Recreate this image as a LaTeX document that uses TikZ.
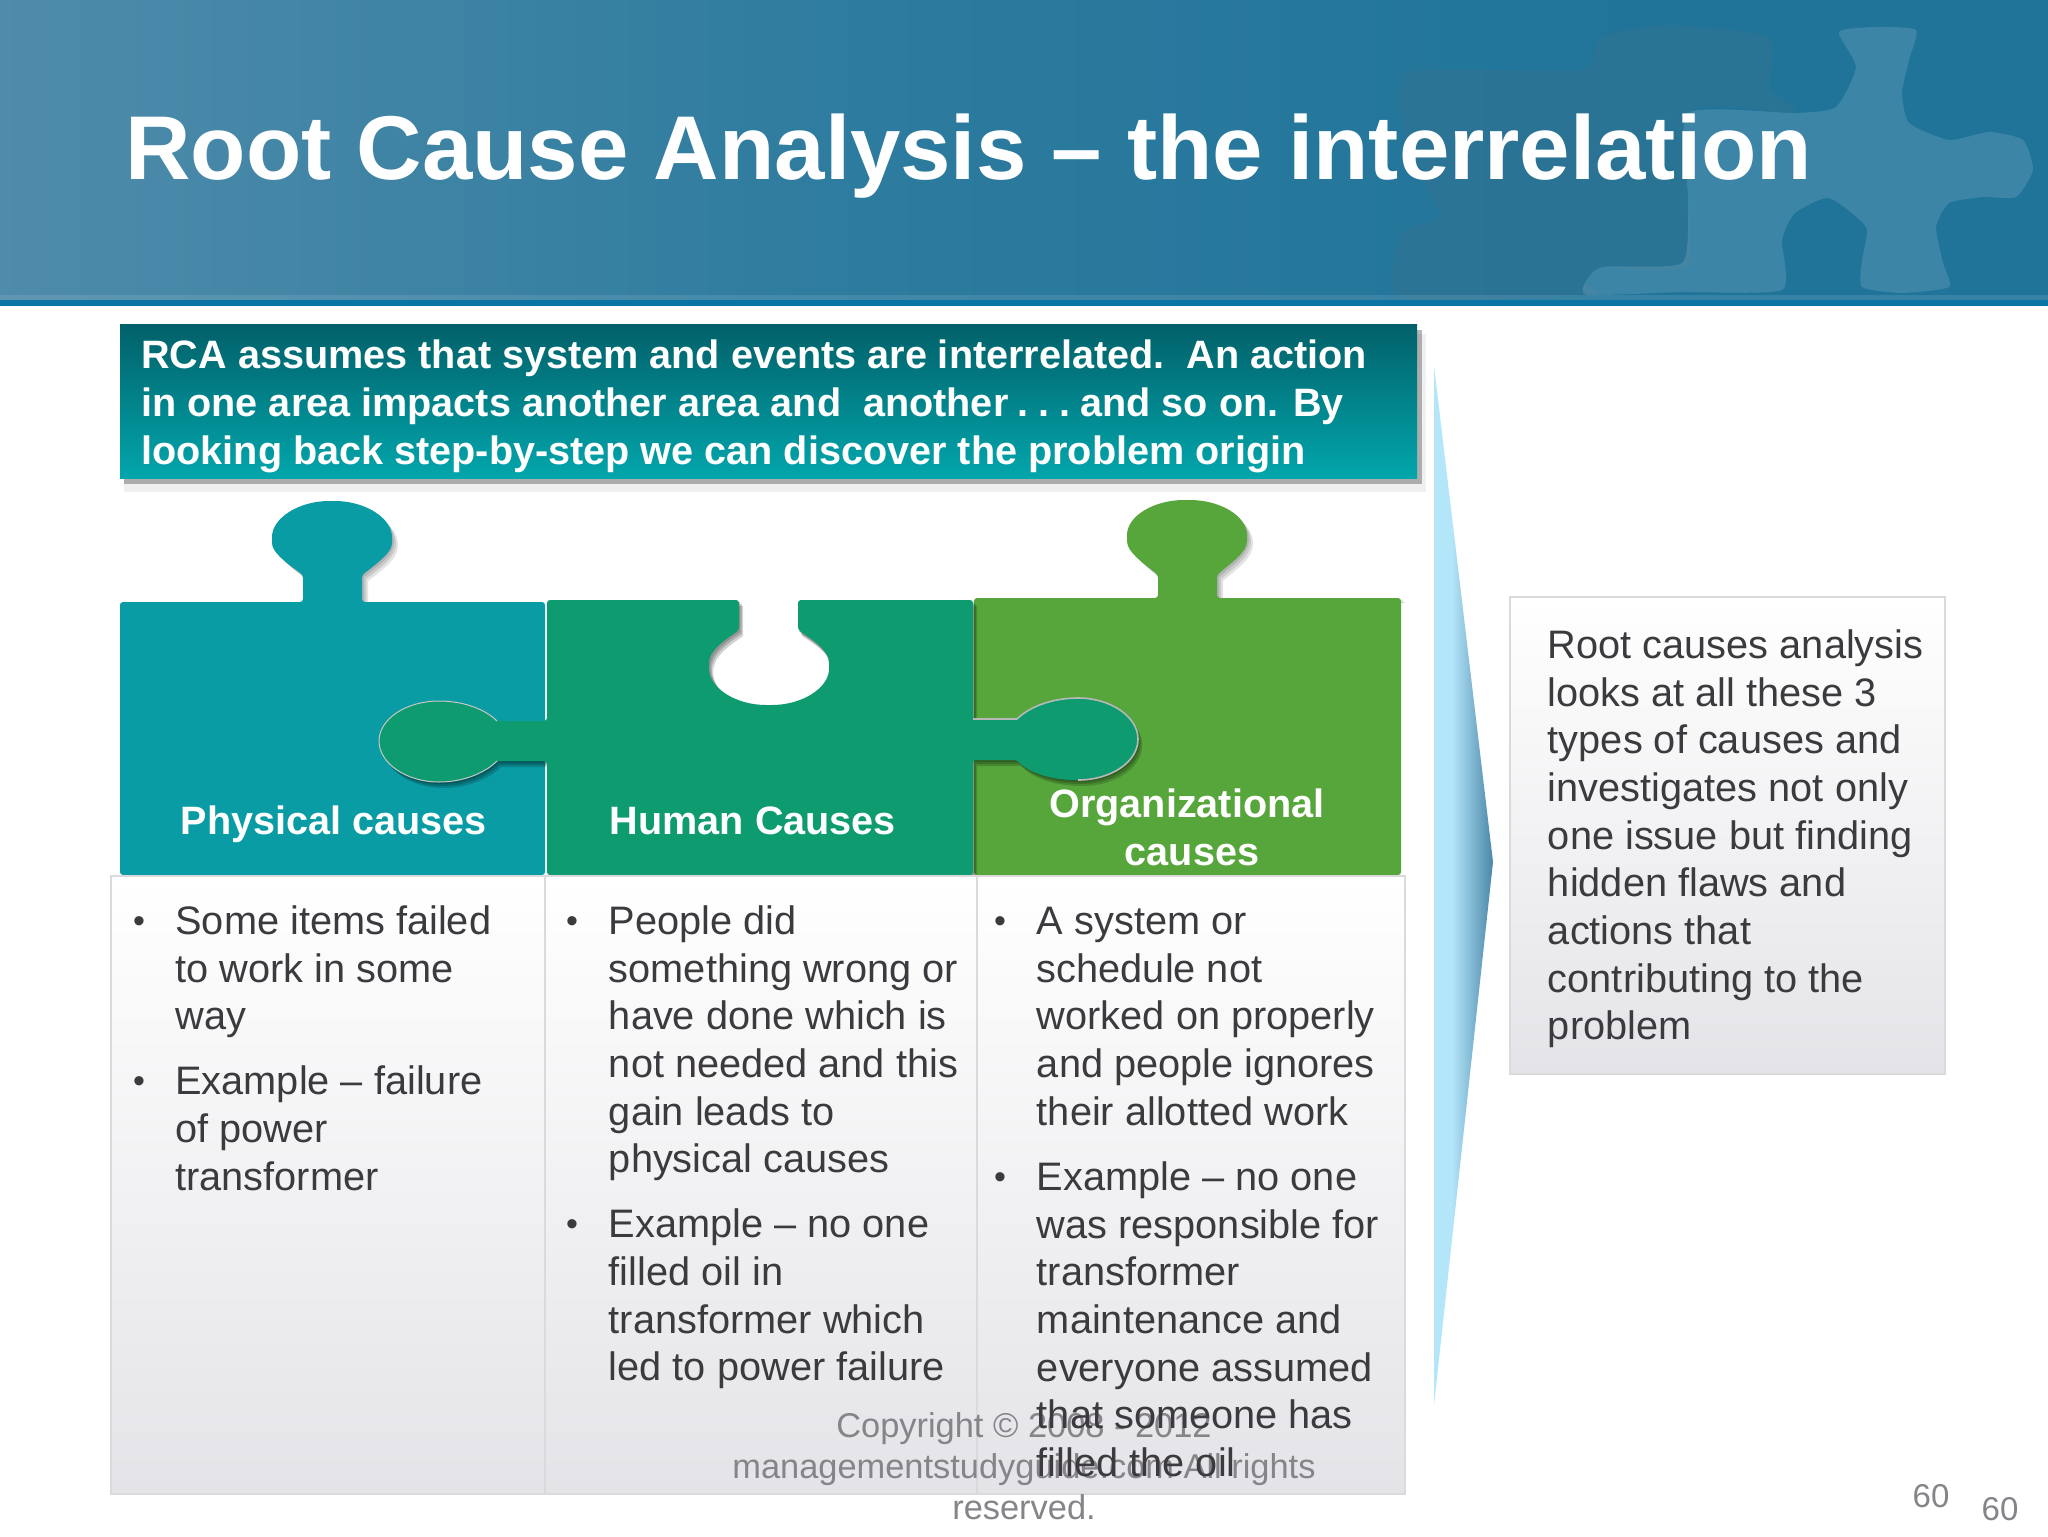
\documentclass[tikz,border=0pt]{standalone}
\usepackage{fontspec}
\setmainfont{Liberation Sans}
\definecolor{hdA}{HTML}{4F8BAA}
\definecolor{hdB}{HTML}{2E7C9F}
\definecolor{hdC}{HTML}{20749A}
\definecolor{hdband}{HTML}{0A74A5}
\definecolor{ghostc}{HTML}{4A7080}
\definecolor{bnA}{HTML}{026069}
\definecolor{bnB}{HTML}{02A6AC}
\definecolor{arA}{HTML}{B4E6FA}
\definecolor{arB}{HTML}{4B87A9}
\definecolor{bodyc}{HTML}{3C3A3E}
\definecolor{footc}{HTML}{868489}
\definecolor{boxedge}{HTML}{DADADC}
\definecolor{boxlow}{HTML}{E4E3E7}
\definecolor{tileA}{HTML}{0A9CA5}
\definecolor{tileB}{HTML}{0E9B70}
\definecolor{tileC}{HTML}{57A63B}
\pgfdeclarehorizontalshading{hdshade}{100bp}{color(0bp)=(hdA);color(25bp)=(hdA);color(45bp)=(hdB);color(65bp)=(hdC);color(100bp)=(hdC)}
\pgfdeclarehorizontalshading{arshade}{100bp}{color(0bp)=(arA);color(25bp)=(arA);color(40bp)=(arA);color(75bp)=(arB);color(100bp)=(arB)}
\tikzset{
  slidebody/.style={anchor=north west,inner sep=0pt,align=left,text=bodyc,font=\fontsize{19.87}{23.85}\selectfont},
  bulletdot/.style={anchor=north,inner sep=0pt,text=bodyc,font=\fontsize{19.87}{23.85}\selectfont},
  tilelabel/.style={anchor=base,inner sep=0pt,text=white,font=\fontsize{19.8}{24}\selectfont\bfseries},
  listbox/.style={draw=boxedge,line width=0.6pt,top color=white,bottom color=boxlow},
  softshadow/.style={fill=black,opacity=0.11},
  tabshadow/.style={fill=black,opacity=0.17},
  pagenum/.style={inner sep=0pt,text=footc,font=\fontsize{16.5}{20}\selectfont},
}
\newcommand{\smalldot}{\strut\raisebox{1pt}{\fontsize{17}{20}\selectfont •}}
% tile outlines (coordinates in reference pixels)
\def\tileone{(120,602) -- (303,602) -- (303,575) .. controls (285,562) and (272,552) .. (272,540) .. controls (272,518) and (299,501) .. (332,501) .. controls (365,501) and (392,518) .. (392,540) .. controls (392,552) and (379,562) .. (362,575) -- (362,602) -- (545,602) -- (545,875) -- (120,875) -- cycle}
\def\tiletwo{(547,600) -- (739,600) -- (739,630) .. controls (725,640) and (709,650) .. (709,666) .. controls (709,688) and (736,705) .. (769,705) .. controls (802,705) and (829,688) .. (829,666) .. controls (829,650) and (813,640) .. (798,630) -- (798,600) -- (973,600) -- (973,719) -- (1017,719) .. controls (1028,708) and (1050,698) .. (1078,698) .. controls (1111,698) and (1138,717) .. (1138,739) .. controls (1138,762) and (1111,780) .. (1078,780) .. controls (1050,780) and (1028,772) .. (1017,760) -- (973,760) -- (973,875) -- (547,875) -- (547,761) -- (497,761) .. controls (486,772) and (465,782) .. (439,782) .. controls (406,782) and (379,763) .. (379,741) .. controls (379,719) and (406,701) .. (439,701) .. controls (465,701) and (486,710) .. (497,721) -- (547,721) -- cycle}
\def\tilethree{(974,598) -- (1158,598) -- (1158,575) .. controls (1142,562) and (1127,552) .. (1127,538) .. controls (1127,516) and (1154,500) .. (1187,500) .. controls (1220,500) and (1247,516) .. (1247,538) .. controls (1247,552) and (1232,562) .. (1217,575) -- (1217,598) -- (1401,598) -- (1401,875) -- (974,875) -- cycle}
\begin{document}
\begin{tikzpicture}[x=0.5pt,y=-0.5pt]
\useasboundingbox (0,0) rectangle (2048,1536);
\fill[white] (0,0) rectangle (2048,1536);
% header
\shade[shading=hdshade] (0,0) rectangle (2048,300);
% ghost puzzle pieces in the header
\fill[ghostc,opacity=0.22] plot[smooth cycle,tension=0.35] coordinates {(1408,73) (1580,70) (1601,37) (1668,25) (1768,37) (1770,87) (1795,113) (1688,113) (1688,263) (1602,267) (1585,283) (1588,295) (1400,297) (1402,233) (1440,215) (1408,150)};
\fill[white,opacity=0.13] plot[smooth cycle,tension=0.35] coordinates {(1839,32) (1876,27) (1916,30) (1909,60) (1902,93) (1909,123) (1949,140) (1989,132) (2023,140) (2033,170) (2016,197) (1983,197) (1949,203) (1936,227) (1943,263) (1949,287) (1902,293) (1862,287) (1862,260) (1866,227) (1829,198) (1795,213) (1782,240) (1782,290) (1682,292) (1588,295) (1585,283) (1602,267) (1682,263) (1688,200) (1688,113) (1795,113) (1836,107) (1856,67)};
\fill[white,opacity=0.10] (0,295) rectangle (2048,300);
\fill[hdband] (0,300) rectangle (2048,306);
% title
\node[anchor=base west,inner sep=0pt,text=white,font=\fontsize{45.3}{50}\selectfont\bfseries] (title) at (125,179) {Root Cause Analysis – the interrelation};
% banner
\fill[black,opacity=0.06] (124,334) rectangle (1426,492);
\fill[black,opacity=0.28] (124,330) rectangle (1422,484);
\shade[top color=bnA,bottom color=bnB] (120,324) rectangle (1417,478);
\node[slidebody,text=white,font=\fontsize{19.8}{24}\selectfont\bfseries] (banner) at (141,334) {\strut RCA assumes that system and events are interrelated.\ \ An action\\in one area impacts another area and\ \ another\hspace{-1pt} .\hspace{-2.2pt} .\hspace{-2.2pt} .\hspace{-2.6pt} and so on. By\\looking back step-by-step we can discover the problem origin};
% side arrow
\shade[shading=arshade] (1434,366) -- (1493,862) -- (1434,1405) -- cycle;
% tiles
\begin{scope}
\clip (100,480) rectangle (1420,602);
\foreach \off in {1,2,3}{
  \fill[softshadow,xshift=\off pt,yshift=-\off pt] \tileone;
  \fill[softshadow,xshift=\off pt,yshift=-\off pt] \tilethree;
}
\end{scope}
\fill[tileA,rounded corners=1.5pt] \tileone;
\fill[tileC,rounded corners=1.5pt] \tilethree;
\begin{scope}
\clip (100,480) rectangle (1420,875);
\foreach \off in {1,2,3}{
  \fill[tabshadow,xshift=0.7*\off pt,yshift=-\off pt] \tiletwo;
}
\end{scope}
\fill[tileB,rounded corners=1.5pt] \tiletwo;
\draw[black!22,line width=0.5pt] (497,721) .. controls (486,710) and (465,701) .. (439,701) .. controls (406,701) and (379,719) .. (379,741) .. controls (379,763) and (406,782) .. (439,782) .. controls (465,782) and (486,772) .. (497,761);
\draw[black!28,line width=0.8pt] (973,719) -- (1017,719) .. controls (1028,708) and (1050,698) .. (1078,698) .. controls (1111,698) and (1138,717) .. (1138,739) .. controls (1138,762) and (1111,780) .. (1078,780);
\node[tilelabel] (lblphys) at (334,834) {Physical causes};
\node[tilelabel] (lblhum) at (753,834) {Human Causes};
\node[tilelabel] (lblorg) at (1187,817) {Organizational};
\node[tilelabel] (lblorgb) at (1192,865) {causes};
% list boxes
\path[listbox] (111,876) rectangle (545,1494);
\path[listbox] (545,876) rectangle (977,1494);
\path[listbox] (977,876) rectangle (1405,1494);
% right box
\path[listbox] (1510,597) rectangle (1945,1074);
% footer
\node[inner sep=0pt,anchor=north,align=center,text=footc,font=\fontsize{17.2}{20.5}\selectfont] (foot) at (1024,1408) {\strut Copyright © 2008 - 2012\\managementstudyguide.com All rights\\reserved.};
\node[pagenum] (numa) at (1931,1496) {60};
\node[pagenum] (numb) at (2000,1509) {60};
% list texts
\node[bulletdot] (ba) at (139,900.5) {\smalldot};
\node[slidebody] (ta) at (175,900.5) {\strut Some items failed\\to work in some\\way};
\node[bulletdot] (bb) at (139,1061) {\smalldot};
\node[slidebody] (tb) at (175,1061) {\strut Example – failure\\of power\\transformer};
\node[bulletdot] (bc) at (572,900.5) {\smalldot};
\node[slidebody] (tc) at (608.5,900.5) {\strut People did\\something wrong or\\have done which is\\not needed and this\\gain leads to\\physical causes};
\node[bulletdot] (bd) at (572,1204) {\smalldot};
\node[slidebody] (td) at (608.5,1204) {\strut Example – no one\\filled oil in\\transformer which\\led to power failure};
\node[bulletdot] (be) at (1000,900.5) {\smalldot};
\node[slidebody] (te) at (1036.5,900.5) {\strut A system or\\schedule not\\worked on properly\\and people ignores\\their allotted work};
\node[bulletdot] (bf) at (1000,1156.5) {\smalldot};
\node[slidebody] (tf) at (1036.5,1156.5) {\strut Example – no one\\was responsible for\\transformer\\maintenance and\\everyone assumed\\that someone has\\filled the oil};
\node[slidebody] (tg) at (1547.5,624.5) {\strut Root causes analysis\\looks at all these 3\\types of causes and\\investigates not only\\one issue but finding\\hidden flaws and\\actions that\\contributing to the\\problem};
\end{tikzpicture}
\end{document}
